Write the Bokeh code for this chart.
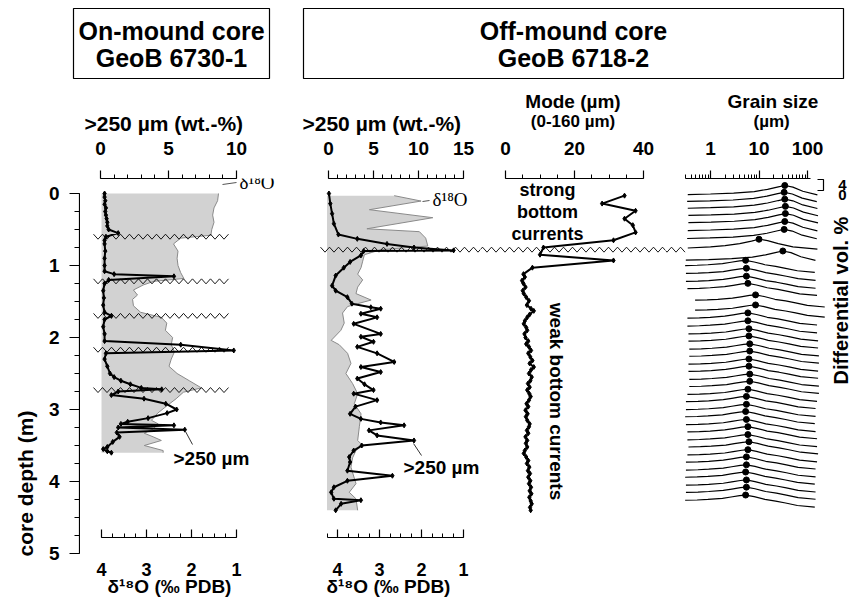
import math
from bokeh.plotting import figure
from bokeh.layouts import row, column
from bokeh.models import (Range1d, LinearAxis, LogAxis, FixedTicker, NumeralTickFormatter,
                          Label, Title)
from bokeh.embed import file_html
from bokeh.resources import INLINE
from bokeh.core.properties import value

FONT = "Liberation Sans"
SERIF = "Liberation Serif"

# ---------------------------------------------------------------- data
TITLES = [["On-mound core", "GeoB 6730-1"], ["Off-mound core", "GeoB 6718-2"]]

# On-mound core GeoB 6730-1
ON_D18O_DEPTH = [0.0, 0.1, 0.2, 0.3, 0.4, 0.5, 0.58, 0.62, 0.7, 0.8, 0.9, 1.0, 1.1, 1.18,
                 1.22, 1.27, 1.34, 1.41, 1.47, 1.56, 1.65, 1.72, 1.8, 1.9, 2.0, 2.1, 2.2,
                 2.3, 2.4, 2.5, 2.6, 2.7, 2.76, 2.85, 2.95, 3.05, 3.15, 3.2, 3.27, 3.33,
                 3.38, 3.43, 3.5, 3.57, 3.6]
ON_D18O = [1.40, 1.42, 1.50, 1.53, 1.50, 1.55, 1.57, 2.24, 2.40, 2.30, 2.32, 2.30, 2.24, 2.17,
           2.84, 3.07, 3.29, 3.20, 3.31, 3.29, 3.13, 2.67, 2.55, 2.58, 2.42, 2.45, 2.38,
           2.45, 2.50, 2.32, 2.05, 1.78, 2.18, 2.34, 2.55, 2.75, 2.89, 2.74, 2.85, 3.05,
           2.85, 2.67, 3.05, 2.63, 2.63]
ON_COARSE_DEPTH = [0.0, 0.05, 0.1, 0.15, 0.2, 0.25, 0.3, 0.35, 0.4, 0.45, 0.5, 0.55, 0.6,
                   0.65, 0.7, 0.8, 0.9, 1.0, 1.08, 1.12, 1.15, 1.2, 1.25, 1.35, 1.45, 1.55,
                   1.65, 1.7, 1.75, 1.85, 1.95, 2.05, 2.1, 2.18, 2.22, 2.3, 2.4, 2.5, 2.55,
                   2.6, 2.65, 2.7, 2.72, 2.75, 2.8, 2.85, 2.92, 3.0, 3.05, 3.12, 3.17, 3.2,
                   3.22, 3.25, 3.28, 3.32, 3.38, 3.45, 3.52, 3.55, 3.58, 3.6]
ON_COARSE = [0.3, 0.3, 0.35, 0.3, 0.4, 0.35, 0.4, 0.45, 0.5, 0.5, 0.6, 1.3, 0.4,
             0.3, 0.3, 0.35, 0.3, 0.3, 0.3, 1.0, 5.4, 0.6, 0.3, 0.2, 0.25, 0.2,
             0.3, 0.8, 0.3, 0.2, 0.3, 0.3, 5.9, 9.8, 0.4, 0.3, 0.5, 0.7, 1.0,
             1.5, 2.2, 3.0, 4.5, 1.3, 0.8, 3.2, 4.8, 5.6, 4.9, 3.5, 2.0, 1.5,
             5.4, 1.3, 6.2, 1.2, 1.4, 0.9, 0.5, 0.2, 0.5, 0.8]
ON_HIATUS = [0.6, 1.22, 1.7, 2.17, 2.73]

# Off-mound core GeoB 6718-2
OFF_D18O_DEPTH = [0.03, 0.105, 0.225, 0.336, 0.49, 0.53, 0.62, 0.73, 0.78, 0.85,
                  0.94, 1.03, 1.12, 1.2, 1.3, 1.39, 1.48, 1.53, 1.57, 1.66,
                  1.8, 1.9, 2.04, 2.1, 2.22, 2.36, 2.5, 2.64, 2.78, 2.92,
                  3.06, 3.24, 3.43, 3.5, 3.57, 3.67, 3.8, 4.03, 4.15, 4.24, 4.4]
OFF_D18O = [2.65, 2.01, 3.24, 1.73, 3.30, 2.05, 1.90, 1.85, 2.96, 3.36,
            3.40, 3.44, 3.52, 3.40, 3.52, 3.56, 3.20, 3.52, 3.76, 3.88,
            3.84, 3.92, 4.15, 3.96, 3.76, 3.68, 3.80, 3.64, 3.52, 3.60,
            3.44, 3.48, 3.52, 3.40, 3.56, 3.64, 3.68, 3.56, 3.72, 3.56, 3.52]
OFF_COARSE_DEPTH = [0.0, 0.14, 0.28, 0.42, 0.57, 0.63, 0.70, 0.75, 0.79, 0.80, 0.86, 0.95,
                    1.03, 1.14, 1.28, 1.35, 1.44, 1.53, 1.58, 1.60, 1.67, 1.72, 1.81, 1.95,
                    1.99, 2.06, 2.13, 2.22, 2.34, 2.41, 2.48, 2.57, 2.65, 2.73, 2.78, 2.87,
                    2.96, 3.06, 3.13, 3.18, 3.22, 3.29, 3.36, 3.43, 3.50, 3.57, 3.66, 3.73,
                    3.85, 3.92, 3.99, 4.08, 4.15, 4.24, 4.26, 4.31, 4.40]
OFF_COARSE = [0.05, 0.2, 0.4, 0.6, 1.1, 3.2, 6.5, 9.5, 13.9, 3.9, 3.6, 2.4,
              1.7, 0.8, 0.4, 0.8, 2.1, 2.6, 4.7, 5.8, 3.6, 5.4, 2.8, 5.8,
              3.6, 5.0, 3.2, 5.4, 7.3, 3.6, 5.8, 3.2, 4.0, 5.0, 2.8, 5.4,
              3.0, 2.4, 3.6, 5.8, 8.4, 4.5, 5.4, 9.5, 3.7, 2.8, 2.3, 2.4,
              2.1, 7.1, 2.1, 0.6, 0.3, 0.6, 3.6, 1.4, 0.8]
OFF_HIATUS = [0.78]

MODE_DEPTH = [0.03, 0.14, 0.24, 0.35, 0.44, 0.54, 0.65, 0.75, 0.85, 0.93, 1.03, 1.12,
              1.16, 1.21, 1.25, 1.30, 1.35, 1.39, 1.44, 1.49, 1.55, 1.60,
              1.63, 1.68, 1.72, 1.77, 1.81, 1.86, 1.90, 1.95, 2.00, 2.05,
              2.09, 2.13, 2.18, 2.22, 2.27, 2.32, 2.36, 2.41, 2.45, 2.50,
              2.55, 2.60, 2.64, 2.69, 2.73, 2.78, 2.82, 2.87, 2.92, 2.96,
              3.01, 3.06, 3.10, 3.15, 3.20, 3.24, 3.29, 3.33, 3.38, 3.43,
              3.47, 3.52, 3.57, 3.61, 3.66, 3.71, 3.75, 3.80, 3.85, 3.89,
              3.94, 3.99, 4.03, 4.08, 4.13, 4.17, 4.22, 4.27, 4.31, 4.36, 4.40]
MODE = [34.5, 28.0, 37.7, 34.5, 36.9, 37.7, 31.3, 11.0, 10.0, 31.3, 7.8, 5.2,
        5.6, 4.8, 5.2, 5.8, 5.0, 5.3, 6.0, 6.8, 6.2, 7.4,
        8.2, 7.0, 6.3, 5.6, 5.3, 6.0, 6.3, 5.5, 5.8, 6.6,
        6.0, 6.8, 7.4, 6.6, 7.2, 7.8, 7.0, 8.2, 7.4, 6.8,
        7.6, 7.2, 6.5, 7.0, 6.3, 6.9, 7.3, 6.8, 6.1, 6.6,
        5.8, 6.4, 5.9, 6.3, 7.0, 6.8, 6.2, 6.6, 5.8, 6.3,
        5.9, 6.3, 5.6, 5.3, 6.0, 6.6, 6.2, 6.9, 6.5, 7.1,
        6.6, 7.2, 6.8, 7.4, 7.0, 7.5, 6.9, 7.3, 7.6, 7.1, 7.3]

# grain-size distributions (one per sample depth)
GS_DEPTH = [0.03, 0.125, 0.22, 0.32, 0.42, 0.53, 0.64, 0.78, 0.94,
            1.10, 1.21, 1.32, 1.42, 1.58, 1.72, 1.83, 1.94,
            2.05, 2.15, 2.26, 2.36, 2.47, 2.57, 2.68, 2.78, 2.89, 2.99,
            3.10, 3.20, 3.31, 3.41, 3.52, 3.62, 3.73, 3.83, 3.94, 4.04,
            4.15, 4.25, 4.36]
GS_MODE = [34, 33, 34, 35, 35, 34, 33, 10, 31,
           5.3, 5.5, 5.5, 5.9, 8.5, 8.5, 5.9, 5.9,
           6.2, 6.2, 6.45, 6.45, 6.2, 6.2, 6.45, 6.45, 5.9, 5.5,
           5.5, 5.3, 5.5, 5.9, 5.9, 6.2, 5.9, 5.5, 5.5, 5.3,
           5.5, 5.5, 5.3]
GS_SHAPE = ["coarse"] * 7 + ["medium", "coarse"] + ["fine"] * 31
GS_COARSE_SIZE = [0.34, 1, 3, 8, 15, 25, 34, 50, 80, 160]
GS_COARSE_VOL = [0.4, 0.6, 0.9, 1.5, 2.3, 3.2, 3.7, 3.1, 1.6, 0.3]
GS_MEDIUM_SIZE = [0.34, 1, 2, 4, 7, 10, 15, 25, 50, 160]
GS_MEDIUM_VOL = [0.6, 1.0, 1.5, 2.2, 3.1, 3.8, 3.3, 2.2, 1.0, 0.2]
GS_FINE_SIZE = [0.34, 0.6, 1, 2, 3, 4.5, 6, 9, 15, 25, 40, 70, 160]
GS_FINE_VOL = [2.6, 2.7, 2.9, 3.3, 3.8, 4.3, 4.5, 3.9, 2.9, 2.3, 1.6, 0.7, 0.1]
GS_TEMPLATES = {
    "coarse": (GS_COARSE_SIZE, GS_COARSE_VOL),
    "medium": (GS_MEDIUM_SIZE, GS_MEDIUM_VOL),
    "fine": (GS_FINE_SIZE, GS_FINE_VOL),
}

# ---------------------------------------------------------------- geometry (page px)
FIG_EDGES = [0, 45, 80, 300, 480, 665, 851]
ROW_TOP, ROW_BOTTOM = 80, 604
FRAME_TOP = 178
FRAME_BOTTOM = 537
DEPTH_AXIS_BOTTOM = 553
DEPTH0_PX, PX_PER_M = 193.0, 72.0
GS_BAR_PX = 11.0                      # 4 % differential volume
VOL_TO_M = GS_BAR_PX / 4.0 / PX_PER_M


def depth_at(py):
    return (py - DEPTH0_PX) / PX_PER_M


def lin_range(i, ref_val, ref_px, ppu):
    l, r = FIG_EDGES[i], FIG_EDGES[i + 1]
    return Range1d(ref_val + (l - ref_px) / ppu, ref_val + (r - ref_px) / ppu)


def lin_inv(ref_val, ref_px, ppu):
    return lambda px: ref_val + (px - ref_px) / ppu


def make_fig(i, x_range, frame_bottom, x_type="linear", left=0, frame_top=FRAME_TOP,
             y_range=None):
    width = FIG_EDGES[i + 1] - FIG_EDGES[i]
    height = ROW_BOTTOM - ROW_TOP
    if y_range is None:
        y_range = Range1d(depth_at(frame_bottom), depth_at(frame_top))
    p = figure(width=width, height=height, x_range=x_range, y_range=y_range,
               x_axis_type=x_type, x_axis_location=None, y_axis_location=None,
               toolbar_location=None, output_backend="svg",
               min_border_top=frame_top - ROW_TOP, min_border_bottom=ROW_BOTTOM - frame_bottom,
               min_border_left=left, min_border_right=0)
    p.frame_align = False
    p.outline_line_color = None
    p.grid.visible = False
    p.background_fill_color = "white"
    p.border_fill_color = "white"
    return p


def style_axis(ax, tick_size="19px"):
    ax.axis_line_color = "black"
    ax.axis_line_width = 1.2
    ax.major_tick_line_color = "black"
    ax.minor_tick_line_color = "black"
    ax.major_tick_line_width = 1.2
    ax.major_label_text_font = FONT
    ax.major_label_text_font_style = "bold"
    ax.major_label_text_font_size = tick_size
    ax.major_label_text_color = "black"


def add_title(p, text, side, left_px, i, size="20px", standoff=0, align="left"):
    offset = left_px - FIG_EDGES[i] if align == "left" else 0
    t = Title(text=text, align=align, offset=offset,
              text_font=FONT, text_font_style="bold", text_font_size=size,
              text_color="black", standoff=standoff)
    p.add_layout(t, side)
    return t


def top_axis(p, cls, bounds, ticks, minor, **kw):
    ax = cls(bounds=bounds, ticker=FixedTicker(ticks=ticks, minor_ticks=minor), **kw)
    style_axis(ax)
    ax.major_tick_out, ax.major_tick_in = 8, 0
    ax.minor_tick_out, ax.minor_tick_in = 4, 0
    ax.major_label_standoff = 16
    p.add_layout(ax, "above")
    return ax


def bottom_axis(p, bounds, ticks, minor, **kw):
    ax = LinearAxis(bounds=bounds, ticker=FixedTicker(ticks=ticks, minor_ticks=minor), **kw)
    style_axis(ax, tick_size="18px")
    ax.major_tick_out, ax.major_tick_in = 0, 8
    ax.minor_tick_out, ax.minor_tick_in = 0, 4
    ax.major_label_standoff = 25
    p.add_layout(ax, "below")
    return ax


def zigzag(p, px_from, px_to, depth, to_x, **kw):
    xs, ys = [], []
    k = 0
    px = px_from
    while px <= px_to + 0.01:
        xs.append(to_x(px))
        ys.append(depth + (2.5 if k % 2 else -2.5) / PX_PER_M)
        px += 4.5
        k += 1
    p.line(xs, ys, line_color="black", line_width=0.9, **kw)


def add_label(p, x, y, text, size="18px", font=FONT, style="bold", angle=0.0,
              align="left", baseline="middle", **kw):
    p.add_layout(Label(x=x, y=y, text=text, text_font=font, text_font_style=style,
                       text_font_size=size, text_color="black", angle=angle,
                       text_align=align, text_baseline=baseline, **kw))


# ---------------------------------------------------------------- title boxes
tf = figure(width=851, height=ROW_TOP, x_range=Range1d(0, 851), y_range=Range1d(ROW_TOP, 0),
            x_axis_location=None, y_axis_location=None, toolbar_location=None,
            output_backend="svg", min_border_left=0, min_border_right=0,
            min_border_top=0, min_border_bottom=0)
tf.frame_align = False
tf.outline_line_color = None
tf.grid.visible = False
BOX_L, BOX_R, BOX_T, BOX_B = [73, 303], [269, 843], 8, 78
tf.quad(left=BOX_L, right=BOX_R, top=[BOX_T] * 2, bottom=[BOX_B] * 2,
        fill_color=None, line_color="black", line_width=1.2)
for (l, r), lines in zip(zip(BOX_L, BOX_R), TITLES):
    tf.text(x=[(l + r) / 2] * 2, y=[30, 57], text=lines, text_align="center",
            text_baseline="middle", text_font=value(FONT), text_font_style="bold",
            text_font_size="25px", text_color="black")

# ---------------------------------------------------------------- depth-axis title
LBL_TOP, LBL_BOTTOM = 180, 600
pl = make_fig(0, Range1d(FIG_EDGES[0], FIG_EDGES[1]), LBL_BOTTOM, frame_top=LBL_TOP,
              y_range=Range1d(LBL_BOTTOM, LBL_TOP))
add_label(pl, 25, 483, "core depth (m)", size="21px", angle=math.pi / 2, align="center")

# ---------------------------------------------------------------- depth axis
pd = make_fig(1, Range1d(0, 1), DEPTH_AXIS_BOTTOM, left=33)
yax = LinearAxis(bounds=(0, 5), ticker=FixedTicker(ticks=[0, 1, 2, 3, 4, 5],
                 minor_ticks=[0.25 * k for k in range(21)]))
style_axis(yax)
yax.major_tick_out, yax.major_tick_in = 10, 0
yax.minor_tick_out, yax.minor_tick_in = 5, 0
yax.major_label_standoff = 10
pd.add_layout(yax, "left")

# ---------------------------------------------------------------- panel 1 (on-mound)
p1 = make_fig(2, lin_range(2, 0, 100, 13.6), FRAME_BOTTOM)
p1.extra_x_ranges = {"d18o": lin_range(2, 4, 101, -45.0)}
top_axis(p1, LinearAxis, (0, 10), [0, 5, 10], list(range(11)))
add_title(p1, ">250 µm (wt.-%)", "above", 84, 2, size="21px", standoff=8)
bottom_axis(p1, (1, 4), [1, 2, 3, 4], [1 + 0.25 * k for k in range(13)], x_range_name="d18o")
add_title(p1, "δ¹⁸O (‰ PDB)", "below", 107, 2, size="19px", standoff=-10)
p1.harea(x1=[4.0] * len(ON_D18O), x2=ON_D18O, y=ON_D18O_DEPTH, x_range_name="d18o",
         fill_color="#d2d2d2", fill_alpha=1.0)
p1.line(ON_D18O, ON_D18O_DEPTH, x_range_name="d18o", line_color="#8a8a8a", line_width=1)
p1x = lin_inv(0, 100, 13.6)
for h in ON_HIATUS:
    zigzag(p1, 93, 230, h, p1x)
p1.line(ON_COARSE, ON_COARSE_DEPTH, line_color="black", line_width=2)
p1.scatter(ON_COARSE, ON_COARSE_DEPTH, marker="diamond", size=5, color="black")
p1.line([p1x(222), p1x(236)], [depth_at(184), depth_at(182)], line_color="#555555", line_width=1)
add_label(p1, p1x(239), depth_at(182), "δ¹⁸O", font=SERIF, style="normal", size="19px")
p1.line([p1x(185), p1x(192)], [depth_at(431), depth_at(444)], line_color="#333333", line_width=1)
add_label(p1, p1x(173), depth_at(458), ">250 µm", size="19px")

# ---------------------------------------------------------------- panel 2 (off-mound)
p2 = make_fig(3, lin_range(3, 0, 328, 9.0), FRAME_BOTTOM)
p2.extra_x_ranges = {"d18o": lin_range(3, 4, 337, -42.0)}
top_axis(p2, LinearAxis, (0, 15), [0, 5, 10, 15], list(range(16)))
add_title(p2, ">250 µm (wt.-%)", "above", 302, 3, size="21px", standoff=8)
bottom_axis(p2, (1, 4.25), [1, 2, 3, 4], [1 + 0.25 * k for k in range(14)], x_range_name="d18o")
add_title(p2, "δ¹⁸O (‰ PDB)", "below", 326, 3, size="19px", standoff=-10)
p2.harea(x1=[4.25] * len(OFF_D18O), x2=OFF_D18O, y=OFF_D18O_DEPTH, x_range_name="d18o",
         fill_color="#d2d2d2", fill_alpha=1.0)
p2.line(OFF_D18O, OFF_D18O_DEPTH, x_range_name="d18o", line_color="#8a8a8a", line_width=1)
p2x = lin_inv(0, 328, 9.0)
for h in OFF_HIATUS:
    zigzag(p2, 320, 484, h, p2x)
p2.line(OFF_COARSE, OFF_COARSE_DEPTH, line_color="black", line_width=2)
p2.scatter(OFF_COARSE, OFF_COARSE_DEPTH, marker="diamond", size=5, color="black")
p2.line([p2x(422), p2x(429)], [depth_at(201), depth_at(200)], line_color="#555555", line_width=1)
add_label(p2, p2x(432), depth_at(199), "δ¹⁸O", font=SERIF, style="normal", size="19px")
p2.line([p2x(413), p2x(421)], [depth_at(443), depth_at(455)], line_color="#333333", line_width=1)
add_label(p2, p2x(403), depth_at(467), ">250 µm", size="19px")

# ---------------------------------------------------------------- panel 3 (mode)
p3 = make_fig(4, lin_range(4, 0, 505, 3.45), FRAME_BOTTOM)
top_axis(p3, LinearAxis, (0, 40), [0, 20, 40], [5 * k for k in range(9)])
add_title(p3, "(0-160 µm)", "above", 0, 4, size="17px", standoff=16, align="center")
add_title(p3, "Mode (µm)", "above", 0, 4, size="19px", standoff=-20, align="center")
p3x = lin_inv(0, 505, 3.45)
for h in OFF_HIATUS:
    zigzag(p3, 320 + 4.5 * 34, 670, h, p3x)
p3.line(MODE, MODE_DEPTH, line_color="black", line_width=2)
p3.scatter(MODE, MODE_DEPTH, marker="diamond", size=5, color="black")
for txt, py in zip(["strong", "bottom", "currents"], [189, 211, 233]):
    add_label(p3, p3x(547), depth_at(py), txt, align="center")
add_label(p3, p3x(556), depth_at(401), "weak bottom currents", size="19px",
          angle=-math.pi / 2, align="center")

# ---------------------------------------------------------------- panel 4 (grain size)
GS_PX1, GS_PPD = 710.0, 48.5


def gx(px):
    return 10 ** ((px - GS_PX1) / GS_PPD)


p4 = make_fig(5, Range1d(gx(FIG_EDGES[5]), gx(FIG_EDGES[6])), FRAME_BOTTOM, x_type="log")
ax4 = top_axis(p4, LogAxis, (0.3, 115), [1, 10, 100],
               [0.3, 0.4, 0.5, 0.6, 0.7, 0.8, 0.9, 2, 3, 4, 5, 6, 7, 8, 9,
                20, 30, 40, 50, 60, 70, 80, 90])
ax4.formatter = NumeralTickFormatter(format="0")
add_title(p4, "(µm)", "above", 753, 5, size="17px", standoff=16)
add_title(p4, "Grain size", "above", 727, 5, size="19px", standoff=-20)
for h in OFF_HIATUS:
    zigzag(p4, 320 + 4.5 * 76, 687, h, gx)
xs_all, ys_all, dot_x, dot_y = [], [], [], []
for d, m, shape in zip(GS_DEPTH, GS_MODE, GS_SHAPE):
    sizes, vols = GS_TEMPLATES[shape]
    tmode = sizes[vols.index(max(vols))]
    xs_all.append([s * m / tmode for s in sizes])
    ys_all.append([d - v * VOL_TO_M for v in vols])
    dot_x.append(m)
    dot_y.append(d - max(vols) * VOL_TO_M)
p4.multi_line(xs_all, ys_all, line_color="black", line_width=1.2)
p4.scatter(dot_x, dot_y, marker="circle", size=6, color="black")
# scale bar (0 - 4 % differential volume)
bar0 = depth_at(190)
p4.line([gx(817), gx(823), gx(823), gx(817)],
        [bar0 - 4 * VOL_TO_M, bar0 - 4 * VOL_TO_M, bar0, bar0],
        line_color="black", line_width=1.2)
add_label(p4, gx(842), depth_at(184), "4", size="15px", align="center")
add_label(p4, gx(842), depth_at(194), "0", size="15px", align="center")
add_label(p4, gx(840), depth_at(300), "Differential vol. %", size="20px",
          angle=math.pi / 2, align="center")

layout = column(tf, row(pl, pd, p1, p2, p3, p4))
open("out.html", "w").write(file_html(layout, INLINE))
